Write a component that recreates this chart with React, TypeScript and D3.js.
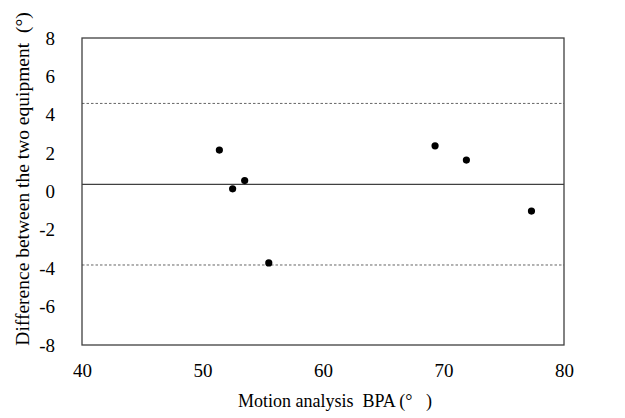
import React, { useRef, useEffect } from 'react';
import * as d3 from 'd3';

// Motion analysis BPA (x) vs difference between the two equipment (y)
const bpa = [51.4, 52.5, 53.5, 55.5, 69.3, 71.9, 77.3];
const diff = [2.16, 0.14, 0.57, -3.72, 2.38, 1.64, -1.02];

// mean bias and limits of agreement
const meanDiff = 0.37;
const upperLimit = 4.59;
const lowerLimit = -3.83;

const xTicks = [40, 50, 60, 70, 80];
const yTicks = [8, 6, 4, 2, 0, -2, -4, -6, -8];

function App() {
  const svgRef = useRef<SVGSVGElement>(null);

  useEffect(() => {
    const svg = d3.select(svgRef.current);
    svg.selectAll('*').remove();

    const margin = { top: 38, right: 61, bottom: 73, left: 82 };
    const width = 625 - margin.left - margin.right;
    const height = 418 - margin.top - margin.bottom;
    const font = '"Liberation Serif", "Times New Roman", serif';

    const g = svg.append('g').attr('transform', `translate(${margin.left},${margin.top})`);

    const x = d3.scaleLinear().domain([40, 80]).range([0, width]);
    const y = d3.scaleLinear().domain([-8, 8]).range([height, 0]);

    // limits of agreement (dashed)
    [upperLimit, lowerLimit].forEach(v => {
      g.append('line')
        .attr('x1', 0).attr('x2', width)
        .attr('y1', y(v)).attr('y2', y(v))
        .attr('stroke', '#666')
        .attr('stroke-width', 1)
        .attr('stroke-dasharray', '2.5,2');
    });

    // mean line
    g.append('line')
      .attr('x1', 0).attr('x2', width)
      .attr('y1', y(meanDiff)).attr('y2', y(meanDiff))
      .attr('stroke', '#404040')
      .attr('stroke-width', 1.2);

    // frame
    g.append('rect')
      .attr('width', width)
      .attr('height', height)
      .attr('fill', 'none')
      .attr('stroke', '#404040')
      .attr('stroke-width', 1.3);

    // x axis labels
    const xAxis = g.append('g')
      .attr('transform', `translate(0,${height})`)
      .call(d3.axisBottom(x).tickValues(xTicks).tickSize(0).tickPadding(19).tickFormat(d => String(d)));
    xAxis.select('.domain').remove();
    xAxis.attr('font-family', font).attr('font-size', 19);
    xAxis.selectAll('text').style('font-family', font).attr('fill', '#000');

    // y axis labels
    const yAxis = g.append('g')
      .call(d3.axisLeft(y).tickValues(yTicks).tickSize(0).tickPadding(27).tickFormat(d => String(d)));
    yAxis.select('.domain').remove();
    yAxis.attr('font-family', font).attr('font-size', 19);
    yAxis.selectAll('text').style('font-family', font).attr('fill', '#000');

    // points
    g.selectAll('.dot')
      .data(bpa.map((b, i) => ({ b, d: diff[i] })))
      .enter()
      .append('circle')
      .attr('class', 'dot')
      .attr('cx', d => x(d.b))
      .attr('cy', d => y(d.d))
      .attr('r', 3.6)
      .attr('fill', '#000');

    // axis titles
    svg.append('text')
      .attr('x', margin.left + width / 2 + 12)
      .attr('y', 407)
      .attr('text-anchor', 'middle')
      .style('font-family', font)
      .attr('font-size', 18)
      .style('white-space', 'pre')
      .text('Motion analysis  BPA (°   )');

    svg.append('text')
      .attr('transform', 'translate(29,179) rotate(-90)')
      .attr('text-anchor', 'middle')
      .style('font-family', font)
      .attr('font-size', 19.5)
      .style('white-space', 'pre')
      .text('Difference between the two equipment  (°)');
  }, []);

  return (
    <svg
      ref={svgRef}
      width={625}
      height={418}
      style={{ position: 'absolute', left: 0, top: 0, background: '#fff' }}
    ></svg>
  );
}

export default App;
